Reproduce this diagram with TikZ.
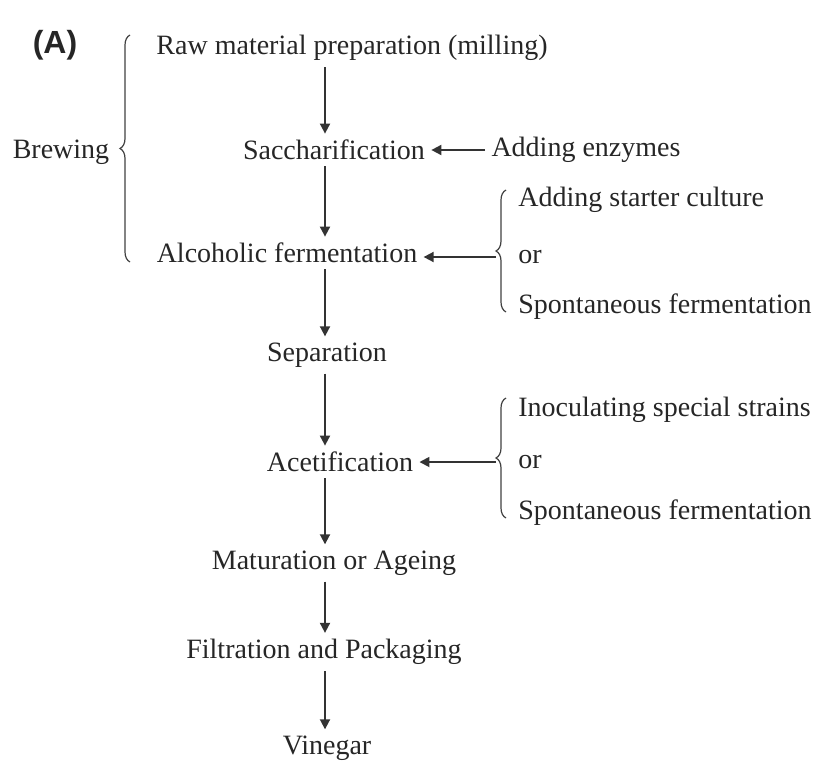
\documentclass[tikz,border=0pt]{standalone}
\usepackage{fontspec}
\setmainfont{Liberation Serif}
\newfontfamily\labelfont{Liberation Sans}
\usetikzlibrary{arrows.meta, decorations.pathreplacing}

\begin{document}
\begin{tikzpicture}[x=0.5pt, y=-0.5pt, >={Triangle[length=5pt,width=5pt]},
  every node/.style={font=\fontsize{14}{16}\selectfont, inner sep=3pt, text=black!85},
  flow/.style={->, line width=0.9pt, black!80},
  curly/.style={decorate, decoration={brace, amplitude=5pt}, line width=0.6pt, black!75}]

  \useasboundingbox (0,0) rectangle (813,766);

  % Label
  \node (lab) at (55,45) {\labelfont\bfseries\fontsize{16}{18}\selectfont (A)};

  % Main steps
  \node (raw)  at (352,48)  {Raw material preparation (milling)};
  \node (sacc) at (334,150) {Saccharification};
  \node (alc)  at (287,253) {Alcoholic fermentation};
  \node (sep)  at (327,355) {Separation};
  \node (acet) at (340,462) {Acetification};
  \node (mat)  at (334,563) {Maturation or Ageing};
  \node (filt) at (324,652) {Filtration and Packaging};
  \node (vin)  at (327,748) {Vinegar};
  \coordinate (spine) at (325,0);

  % Side inputs
  \node (brew) at (61,152)  {Brewing};
  \node (enz)  at (586,150) {Adding enzymes};
  \node[anchor=west] (st1) at (512,200) {Adding starter culture};
  \node[anchor=west] (or1) at (512,257) {or};
  \node[anchor=west] (sp1) at (512,307) {Spontaneous fermentation};
  \node[anchor=west] (in2) at (512,410) {Inoculating special strains};
  \node[anchor=west] (or2) at (512,462) {or};
  \node[anchor=west] (sp2) at (512,513) {Spontaneous fermentation};

  % Braces
  \draw[curly] (130,262) -- (130,35);
  \draw[curly] (506,312) -- (506,190);
  \draw[curly] (506,518) -- (506,398);
  \coordinate (b1) at (496,257);
  \coordinate (b2) at (496,462);

  % Arrows
  \draw[flow] (raw.south -| spine) -- (sacc.north -| spine);
  \draw[flow] (sacc.south -| spine) -- (alc.north -| spine);
  \draw[flow] (alc.south -| spine) -- (sep.north -| spine);
  \draw[flow] (sep.south -| spine) -- (acet.north -| spine);
  \draw[flow] (acet.south -| spine) -- (mat.north -| spine);
  \draw[flow] (mat.south -| spine) -- (filt.north -| spine);
  \draw[flow] (filt.south -| spine) -- (vin.north -| spine);
  \draw[flow] (enz.west) -- (sacc.east);
  \draw[flow] (b1) -- (b1 -| alc.east);
  \draw[flow] (b2) -- (b2 -| acet.east);

\end{tikzpicture}
\end{document}
